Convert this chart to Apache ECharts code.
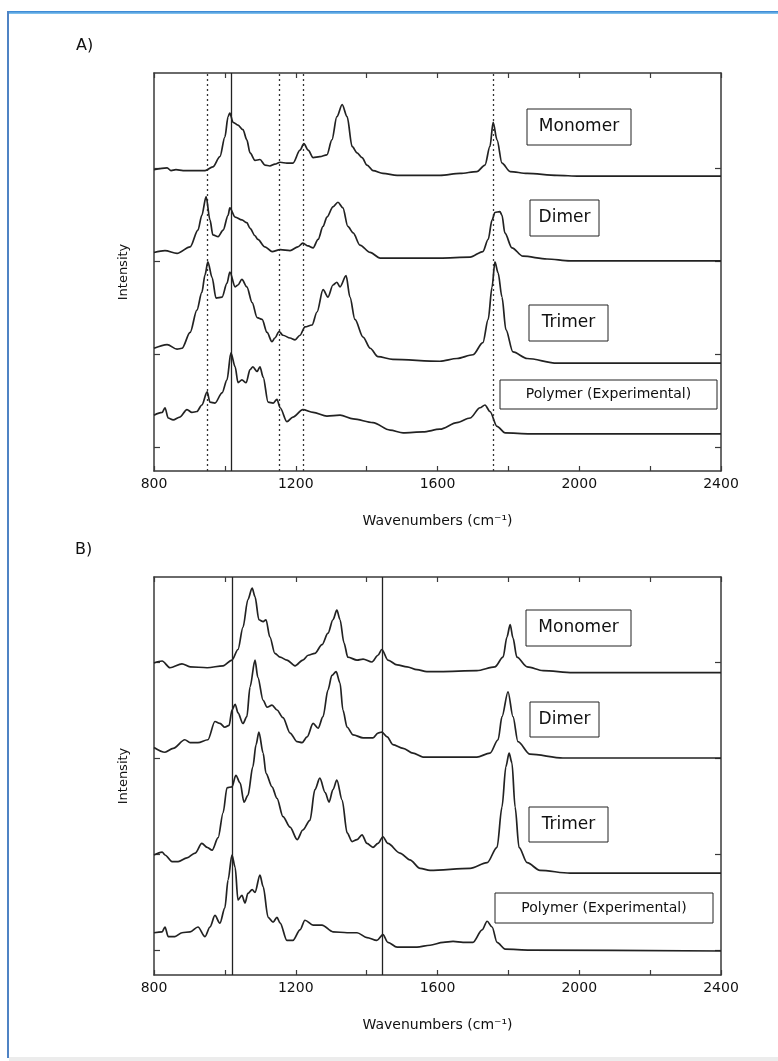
<!DOCTYPE html>
<html>
<head>
<meta charset="utf-8">
<script src="https://cdn.jsdelivr.net/npm/echarts@6/dist/echarts.min.js"></script>
<style>
  html, body { margin: 0; padding: 0; background: #fff; }
  #chart { width: 778px; height: 1061px; }
</style>
</head>
<body>
<div id="chart"></div>
<script>
// ---- axis ticks and labels ----
const xTickValues = [800, 1000, 1200, 1400, 1600, 1800, 2000, 2200, 2400];
const xLabelValues = [800, 1200, 1600, 2000, 2400];
const yTickValues = [0, 1, 2, 3];
const seriesNames = ['Monomer', 'Dimer', 'Trimer', 'Polymer (Experimental)'];

// ---- A) spectra, [wavenumber (cm-1), offset intensity] ----
const monomerA = [[800,2.98],[837,3.00],[848,2.97],[862,2.98],[882,2.97],[944,2.97],[966,3.01],[986,3.12],[1000,3.33],[1009,3.55],[1014,3.59],[1023,3.49],[1037,3.46],[1051,3.41],[1062,3.30],[1071,3.16],[1085,3.08],[1099,3.09],[1113,3.03],[1127,3.02],[1141,3.04],[1156,3.06],[1175,3.05],[1192,3.05],[1212,3.19],[1223,3.26],[1235,3.19],[1249,3.11],[1268,3.12],[1288,3.14],[1302,3.30],[1316,3.55],[1331,3.68],[1345,3.55],[1359,3.23],[1373,3.16],[1387,3.11],[1401,3.03],[1418,2.97],[1446,2.94],[1486,2.92],[1607,2.92],[1664,2.94],[1711,2.96],[1734,3.03],[1748,3.23],[1757,3.49],[1768,3.30],[1782,3.05],[1805,2.96],[1853,2.94],[1937,2.92],[2000,2.91],[2400,2.91]];
const dimerA = [[800,2.09],[831,2.11],[865,2.08],[902,2.15],[924,2.33],[935,2.49],[947,2.69],[958,2.44],[966,2.28],[981,2.26],[995,2.33],[1009,2.49],[1014,2.57],[1029,2.47],[1048,2.44],[1062,2.41],[1071,2.35],[1085,2.27],[1093,2.23],[1113,2.15],[1133,2.10],[1156,2.12],[1184,2.11],[1206,2.15],[1220,2.19],[1235,2.16],[1249,2.14],[1263,2.23],[1277,2.37],[1288,2.47],[1305,2.58],[1319,2.63],[1333,2.57],[1347,2.37],[1362,2.30],[1381,2.17],[1410,2.09],[1438,2.03],[1607,2.03],[1692,2.04],[1728,2.10],[1743,2.23],[1754,2.44],[1762,2.52],[1776,2.53],[1782,2.49],[1790,2.30],[1810,2.14],[1841,2.05],[1909,2.02],[1974,2.00],[2400,2.00]];
const trimerA = [[800,1.06],[837,1.10],[865,1.05],[879,1.06],[902,1.23],[921,1.47],[935,1.66],[944,1.85],[952,1.99],[964,1.82],[975,1.60],[992,1.61],[1006,1.76],[1014,1.88],[1029,1.72],[1037,1.74],[1048,1.80],[1062,1.72],[1077,1.55],[1091,1.39],[1105,1.37],[1119,1.23],[1133,1.13],[1141,1.17],[1153,1.24],[1164,1.20],[1184,1.17],[1198,1.15],[1212,1.20],[1226,1.29],[1246,1.31],[1260,1.45],[1277,1.69],[1291,1.61],[1305,1.74],[1316,1.77],[1325,1.72],[1342,1.84],[1353,1.61],[1367,1.37],[1390,1.18],[1410,1.06],[1432,0.97],[1474,0.94],[1607,0.92],[1655,0.95],[1700,0.99],[1728,1.12],[1743,1.37],[1754,1.72],[1762,1.99],[1771,1.87],[1782,1.61],[1793,1.26],[1813,1.02],[1853,0.95],[1937,0.90],[2400,0.90]];
const polymerA = [[800,0.34],[823,0.37],[831,0.42],[840,0.31],[854,0.29],[873,0.32],[893,0.40],[907,0.37],[921,0.38],[935,0.45],[950,0.59],[958,0.48],[972,0.47],[992,0.58],[1006,0.72],[1017,1.01],[1029,0.86],[1037,0.69],[1048,0.72],[1060,0.69],[1071,0.83],[1079,0.86],[1091,0.81],[1099,0.86],[1108,0.75],[1122,0.48],[1136,0.47],[1147,0.51],[1156,0.42],[1175,0.27],[1192,0.32],[1220,0.40],[1249,0.37],[1288,0.33],[1325,0.34],[1362,0.30],[1418,0.26],[1466,0.18],[1503,0.15],[1559,0.16],[1607,0.19],[1655,0.26],[1692,0.31],[1720,0.42],[1734,0.45],[1748,0.38],[1768,0.22],[1791,0.15],[1861,0.14],[2400,0.14]];

// ---- B) spectra ----
const monomerB = [[800,2.99],[823,3.01],[845,2.94],[879,2.98],[902,2.95],[950,2.94],[995,2.96],[1020,3.02],[1037,3.13],[1051,3.36],[1065,3.65],[1077,3.77],[1085,3.68],[1096,3.44],[1108,3.42],[1116,3.44],[1127,3.26],[1141,3.09],[1156,3.05],[1175,3.02],[1198,2.96],[1220,3.02],[1235,3.07],[1254,3.09],[1274,3.18],[1291,3.30],[1305,3.44],[1316,3.54],[1325,3.44],[1336,3.20],[1347,3.05],[1373,3.02],[1390,3.03],[1415,3.00],[1432,3.07],[1443,3.13],[1460,3.02],[1486,2.97],[1514,2.95],[1542,2.92],[1570,2.90],[1607,2.90],[1711,2.91],[1762,2.95],[1785,3.05],[1796,3.26],[1805,3.39],[1813,3.25],[1824,3.05],[1853,2.95],[1898,2.91],[1982,2.89],[2400,2.89]];
const dimerB = [[800,2.11],[831,2.06],[854,2.10],[887,2.19],[902,2.16],[924,2.16],[952,2.19],[972,2.38],[986,2.36],[1000,2.32],[1012,2.34],[1020,2.50],[1029,2.56],[1037,2.47],[1051,2.36],[1062,2.43],[1071,2.74],[1085,3.02],[1093,2.84],[1108,2.60],[1119,2.53],[1133,2.55],[1147,2.50],[1164,2.42],[1184,2.26],[1204,2.17],[1218,2.16],[1232,2.22],[1249,2.36],[1263,2.31],[1277,2.43],[1291,2.71],[1302,2.86],[1314,2.90],[1325,2.78],[1333,2.50],[1345,2.32],[1362,2.24],[1390,2.21],[1418,2.21],[1432,2.26],[1443,2.27],[1458,2.22],[1474,2.14],[1503,2.10],[1531,2.05],[1559,2.01],[1607,2.01],[1711,2.01],[1748,2.05],[1771,2.19],[1782,2.43],[1799,2.69],[1813,2.43],[1827,2.17],[1861,2.04],[1954,2.00],[2400,2.00]];
const trimerB = [[800,0.99],[823,1.02],[831,0.99],[851,0.92],[868,0.92],[893,0.96],[916,1.01],[935,1.11],[950,1.07],[964,1.04],[981,1.17],[995,1.43],[1006,1.69],[1020,1.70],[1031,1.82],[1043,1.74],[1054,1.54],[1065,1.61],[1079,1.91],[1088,2.14],[1096,2.27],[1108,2.05],[1116,1.84],[1133,1.70],[1147,1.58],[1164,1.39],[1184,1.28],[1204,1.15],[1220,1.25],[1240,1.35],[1254,1.67],[1268,1.79],[1283,1.64],[1294,1.54],[1305,1.67],[1316,1.77],[1331,1.56],[1345,1.22],[1359,1.13],[1373,1.15],[1387,1.20],[1401,1.11],[1418,1.07],[1432,1.11],[1446,1.18],[1460,1.11],[1494,1.01],[1522,0.94],[1551,0.85],[1579,0.83],[1692,0.85],[1740,0.91],[1768,1.07],[1782,1.49],[1793,1.91],[1802,2.05],[1810,1.95],[1819,1.49],[1830,1.07],[1853,0.91],[1889,0.83],[1974,0.80],[2400,0.80]];
const polymerB = [[800,0.18],[823,0.19],[831,0.24],[840,0.14],[859,0.14],[879,0.18],[902,0.19],[924,0.24],[944,0.14],[958,0.24],[972,0.36],[986,0.28],[1000,0.44],[1009,0.73],[1020,0.99],[1029,0.86],[1037,0.52],[1048,0.57],[1057,0.49],[1065,0.59],[1077,0.63],[1085,0.60],[1099,0.78],[1108,0.66],[1122,0.34],[1136,0.29],[1147,0.34],[1156,0.28],[1175,0.10],[1192,0.10],[1212,0.21],[1226,0.31],[1249,0.26],[1274,0.26],[1305,0.19],[1345,0.18],[1373,0.18],[1401,0.13],[1429,0.10],[1446,0.16],[1460,0.08],[1486,0.03],[1542,0.03],[1579,0.05],[1616,0.08],[1644,0.09],[1672,0.08],[1700,0.08],[1726,0.21],[1740,0.30],[1754,0.24],[1768,0.08],[1791,0.01],[1861,0.00],[2400,-0.01]];

// ---- band markers (cm-1) ----
const dottedBandsA = [950, 1153, 1220, 1757];
const solidBandsA = [1018];
const solidBandsB = [1022, 1444];

// ---- intensity ranges of the two panels ----
const yRangeA = [-0.26, 4.02];
const yRangeB = [-0.26, 3.885];

const FONT = 'DejaVu Sans';
const INK = '#222';
const AXIS = '#3a3a3a';

const chart = echarts.init(document.getElementById('chart'), null, { renderer: 'canvas' });

const grids = [
  { left: 154, top: 73, width: 567, height: 398 },
  { left: 154, top: 577, width: 567, height: 398 }
];

function xAxes(gridIndex) {
  const common = {
    type: 'value', gridIndex, min: 800, max: 2400,
    axisLine: { show: true, onZero: false, lineStyle: { color: AXIS, width: 1.5 } },
    axisTick: { show: true, inside: true, length: 5, customValues: xTickValues, lineStyle: { color: AXIS, width: 1.2 } },
    splitLine: { show: false }
  };
  return [
    Object.assign({}, common, {
      position: 'bottom',
      axisLabel: { show: true, customValues: xLabelValues, formatter: v => String(v), margin: 6, color: '#111', fontFamily: FONT, fontSize: 14 },
      name: 'Wavenumbers (cm⁻¹)', nameLocation: 'middle', nameGap: 43,
      nameTextStyle: { color: '#111', fontFamily: FONT, fontSize: 14 }
    }),
    Object.assign({}, common, { position: 'top', axisLabel: { show: false } })
  ];
}

function yAxes(gridIndex, range) {
  const common = {
    type: 'value', gridIndex, min: range[0], max: range[1],
    axisLine: { show: true, onZero: false, lineStyle: { color: AXIS, width: 1.5 } },
    axisTick: { show: true, inside: true, length: 6, customValues: yTickValues, lineStyle: { color: AXIS, width: 1.2 } },
    axisLabel: { show: false },
    splitLine: { show: false }
  };
  return [
    Object.assign({}, common, {
      position: 'left',
      name: 'Intensity', nameLocation: 'middle', nameGap: 24, nameRotate: 90,
      nameTextStyle: { color: '#111', fontFamily: FONT, fontSize: 13 }
    }),
    Object.assign({}, common, { position: 'right' })
  ];
}

function spectrum(name, data, axisIdx, extra) {
  return Object.assign({
    type: 'line', name, data,
    xAxisIndex: axisIdx, yAxisIndex: axisIdx,
    showSymbol: false, symbol: 'none',
    smooth: 0.3, smoothMonotone: 'x',
    lineStyle: { color: INK, width: 1.7 },
    z: 3
  }, extra || {});
}

function bandLines(dotted, solid) {
  const data = [];
  dotted.forEach(v => data.push({ xAxis: v, lineStyle: { type: [2, 3], width: 1.3, color: '#333' } }));
  solid.forEach(v => data.push({ xAxis: v, lineStyle: { type: 'solid', width: 1.3, color: '#222' } }));
  return { silent: true, symbol: 'none', label: { show: false }, data, z: 2 };
}

// boxed series labels
function labelBox(x, y, w, h, text, size) {
  return {
    type: 'group', z: 20,
    children: [
      { type: 'rect', shape: { x, y, width: w, height: h }, style: { fill: '#fff', stroke: '#222', lineWidth: 1 } },
      { type: 'text', x: x + w / 2, y: y + h / 2,
        style: { text, fill: '#111', font: size + 'px "' + FONT + '"', align: 'center', verticalAlign: 'middle', textAlign: 'center', textVerticalAlign: 'middle' } }
    ]
  };
}

function panelTag(x, y, text) {
  return { type: 'text', x, y, z: 20,
    style: { text, fill: '#111', font: '16px "' + FONT + '"', align: 'left', verticalAlign: 'middle', textAlign: 'left', textVerticalAlign: 'middle' } };
}

const option = {
  animation: false,
  backgroundColor: '#fff',
  grid: grids,
  xAxis: [].concat(xAxes(0), xAxes(1)),
  yAxis: [].concat(yAxes(0, yRangeA), yAxes(1, yRangeB)),
  series: [
    spectrum(seriesNames[0], monomerA, 0, { markLine: bandLines(dottedBandsA, solidBandsA) }),
    spectrum(seriesNames[1], dimerA, 0),
    spectrum(seriesNames[2], trimerA, 0),
    spectrum(seriesNames[3], polymerA, 0),
    spectrum(seriesNames[0], monomerB, 2, { markLine: bandLines([], solidBandsB) }),
    spectrum(seriesNames[1], dimerB, 2),
    spectrum(seriesNames[2], trimerB, 2),
    spectrum(seriesNames[3], polymerB, 2)
  ],
  graphic: [
    // page frame
    { type: 'rect', z: 30, shape: { x: 8, y: 11, width: 770, height: 3 },
      style: { fill: new echarts.graphic.LinearGradient(0, 0, 0, 1, [{ offset: 0, color: '#2f7fd0' }, { offset: 1, color: '#8ccbf2' }]) } },
    { type: 'rect', z: 30, shape: { x: 7, y: 11, width: 2, height: 1047 }, style: { fill: '#4f83c4' } },
    { type: 'rect', z: 30, shape: { x: 9, y: 1057, width: 769, height: 4 }, style: { fill: '#ececec' } },
    panelTag(76, 46, 'A)'),
    panelTag(75, 550, 'B)'),
    labelBox(527, 109, 104, 36, seriesNames[0], 17),
    labelBox(530, 200, 69, 36, seriesNames[1], 17),
    labelBox(529, 305, 79, 36, seriesNames[2], 17),
    labelBox(500, 380, 217, 29, seriesNames[3], 14),
    labelBox(526, 610, 105, 36, seriesNames[0], 17),
    labelBox(530, 702, 69, 35, seriesNames[1], 17),
    labelBox(529, 807, 79, 35, seriesNames[2], 17),
    labelBox(495, 893, 218, 30, seriesNames[3], 14)
  ]
};

chart.setOption(option);
</script>
</body>
</html>
